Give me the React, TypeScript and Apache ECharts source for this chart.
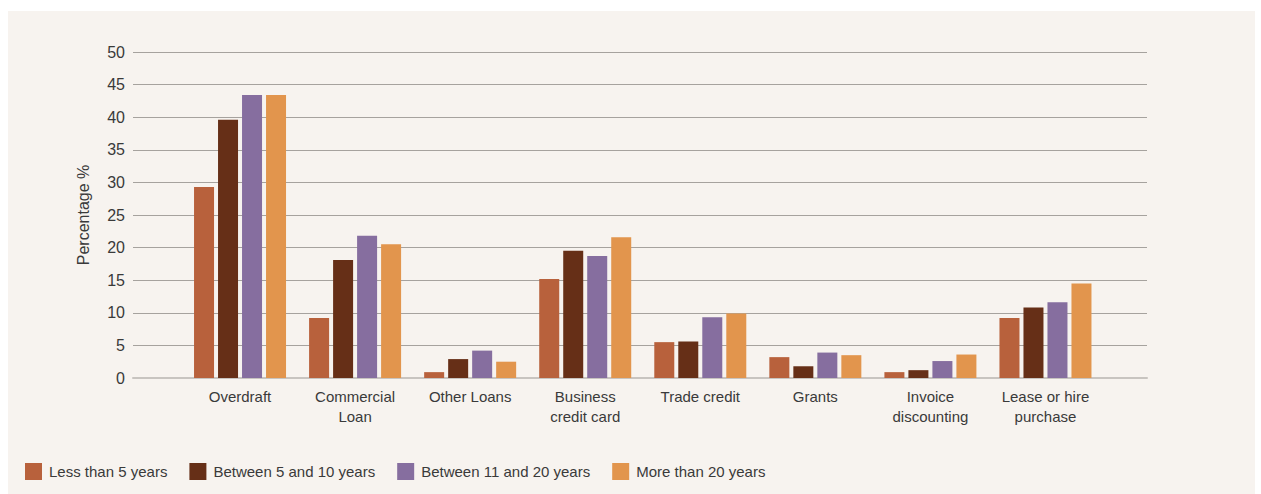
import React, { useEffect, useRef } from "react";
import * as echarts from "echarts";

const categories = [
  "Overdraft",
  "Commercial\nLoan",
  "Other Loans",
  "Business\ncredit card",
  "Trade credit",
  "Grants",
  "Invoice\ndiscounting",
  "Lease or hire\npurchase",
];
const seriesNames = [
  "Less than 5 years",
  "Between 5 and 10 years",
  "Between 11 and 20 years",
  "More than 20 years",
];
const lessThan5 = [29.3, 9.2, 0.9, 15.2, 5.5, 3.2, 0.9, 9.2];
const between5and10 = [39.6, 18.1, 2.9, 19.5, 5.6, 1.8, 1.2, 10.8];
const between11and20 = [43.4, 21.8, 4.2, 18.7, 9.3, 3.9, 2.6, 11.6];
const moreThan20 = [43.4, 20.5, 2.5, 21.6, 9.9, 3.5, 3.6, 14.5];
const colors = ["#b8613c", "#662f17", "#866e9f", "#e2954d"];
const yTicks = { min: 0, max: 50, interval: 5 };

export default function App() {
  const ref = useRef<HTMLDivElement>(null);
  useEffect(() => {
    if (!ref.current) return;
    const chart = echarts.init(ref.current, null, { renderer: "svg" });
    const values = [lessThan5, between5and10, between11and20, moreThan20];
    const font = "'Liberation Sans', Arial, Helvetica, sans-serif";
    chart.setOption({
      animation: false,
      backgroundColor: "#ffffff",
      textStyle: { fontFamily: font },
      graphic: [
        {
          type: "rect",
          z: -10,
          silent: true,
          shape: { x: 8, y: 11, width: 1247, height: 483 },
          style: { fill: "#f7f3ef" },
        },
      ],
      legend: {
        left: 25,
        top: 463,
        padding: 0,
        itemWidth: 17,
        itemHeight: 17,
        itemGap: 22,
        icon: "rect",
        data: seriesNames,
        textStyle: {
          fontSize: 15,
          color: "#3a3a3a",
          fontFamily: font,
          padding: [0, 0, 0, 2],
        },
      },
      grid: [
        { left: 133, right: 114, top: 52, bottom: 116 },
        { left: 182.5, right: 158, top: 52, bottom: 116 },
      ],
      xAxis: [
        {
          type: "category",
          gridIndex: 0,
          data: [""],
          axisLine: { show: true, lineStyle: { color: "#c8c4c0", width: 2 } },
          axisTick: { show: false },
          axisLabel: { show: false },
        },
        {
          type: "category",
          gridIndex: 1,
          data: categories,
          axisLine: { show: false },
          axisTick: { show: false },
          axisLabel: {
            margin: 8,
            fontSize: 15,
            lineHeight: 20,
            color: "#3a3a3a",
            fontFamily: font,
            interval: 0,
          },
        },
      ],
      yAxis: [
        {
          type: "value",
          gridIndex: 0,
          min: yTicks.min,
          max: yTicks.max,
          interval: yTicks.interval,
          name: "Percentage %",
          nameLocation: "middle",
          nameGap: 42,
          nameTextStyle: { fontSize: 16, color: "#3a3a3a", fontFamily: font },
          axisLine: { show: false },
          axisTick: { show: false },
          axisLabel: { fontSize: 16, color: "#3a3a3a", margin: 8, fontFamily: font },
          splitLine: { lineStyle: { color: "#a6a29e", width: 1 } },
        },
        {
          type: "value",
          gridIndex: 1,
          min: yTicks.min,
          max: yTicks.max,
          interval: yTicks.interval,
          axisLine: { show: false },
          axisTick: { show: false },
          axisLabel: { show: false },
          splitLine: { show: false },
        },
      ],
      series: seriesNames.map((name, i) => ({
        name,
        type: "bar",
        xAxisIndex: 1,
        yAxisIndex: 1,
        data: values[i],
        barWidth: 20,
        barGap: "20%",
        itemStyle: { color: colors[i] },
      })),
    });
    return () => chart.dispose();
  }, []);
  return (
    <div
      ref={ref}
      style={{ position: "absolute", left: 0, top: 0, width: 1261, height: 494 }}
    />
  );
}
